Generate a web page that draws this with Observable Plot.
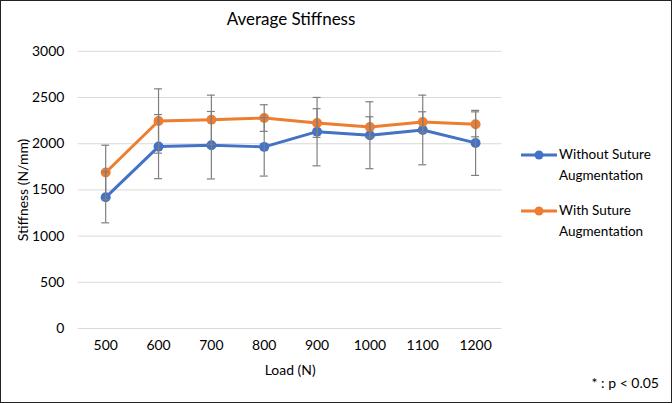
<!DOCTYPE html>
<html>
<head>
<meta charset="utf-8">
<script src="https://cdn.jsdelivr.net/npm/d3@7"></script>
<script src="https://cdn.jsdelivr.net/npm/@observablehq/plot@0.6"></script>
<style>
  html, body { margin: 0; padding: 0; background: #fff; }
  #wrap { position: relative; width: 670px; height: 401px; border: 1px solid #222; font-family: Lato, "Open Sans", sans-serif; color: #000; overflow: hidden; }
  #title { position: absolute; left: 0; width: 580px; top: 7px; text-align: center; font-size: 17px; }
  #legend { position: absolute; left: 519px; top: 143px; font-size: 13.5px; line-height: 21px; }
  .item { display: flex; align-items: flex-start; margin-bottom: 14px; }
  .item svg { flex: none; margin-top: 4px; margin-right: 1px; }
  #note { position: absolute; right: 12px; top: 373px; font-size: 14px; }
  #chart { position: absolute; left: 0; top: 0; }
</style>
</head>
<body>
<div id="wrap">
  <div id="chart"></div>
  <div id="title">Average Stiffness</div>
  <div id="legend"></div>
  <div id="note">* : p &lt; 0.05</div>
</div>
<script>
const loads = ["500", "600", "700", "800", "900", "1000", "1100", "1200"];
const withoutValues = [1420, 1969, 1984, 1966, 2131, 2092, 2149, 2009];
const withoutErr = [276, 347, 365, 316, 370, 362, 377, 352];
const withValues = [1689, 2246, 2260, 2278, 2224, 2181, 2235, 2210];
const withErr = [295, 348, 266, 144, 155, 111, 111, 135];
const seriesNames = ["Without Suture Augmentation", "With Suture Augmentation"];
const legendLines = [["Without Suture", "Augmentation"], ["With Suture", "Augmentation"]];
const seriesColors = ["#4472C4", "#ED7D31"];
const yTicks = [0, 500, 1000, 1500, 2000, 2500, 3000];

const data = [];
loads.forEach((l, i) => {
  data.push({load: l, value: withoutValues[i], err: withoutErr[i], series: seriesNames[0]});
});
loads.forEach((l, i) => {
  data.push({load: l, value: withValues[i], err: withErr[i], series: seriesNames[1]});
});

const errStroke = "#7f7f7f";
const capInset = 22.5;

const chart = Plot.plot({
  width: 672,
  height: 403,
  marginLeft: 77,
  marginRight: 170,
  marginTop: 50,
  marginBottom: 75,
  style: {fontFamily: "Lato, 'Open Sans', sans-serif", fontSize: "14px", color: "#000", background: "transparent"},
  x: {type: "band", domain: loads, padding: 0},
  y: {domain: [0, 3000]},
  color: {domain: seriesNames, range: seriesColors},
  marks: [
    Plot.gridY(yTicks, {stroke: "#d9d9d9", strokeOpacity: 1, strokeWidth: 1}),
    Plot.axisY({ticks: yTicks, tickFormat: d3.format("d"), tickSize: 0, tickPadding: 14, label: "Stiffness (N/mm)", labelAnchor: "center", labelArrow: "none", labelOffset: 60, fontSize: 14}),
    Plot.axisX({tickSize: 0, tickPadding: 12, label: "Load (N)", labelAnchor: "center", labelArrow: "none", labelOffset: 47, fontSize: 14}),
    Plot.line(data, {x: "load", y: "value", z: "series", stroke: "series", strokeWidth: 3}),
    Plot.dot(data, {x: "load", y: "value", fill: "series", r: 5}),
    Plot.ruleX(data, {x: "load", y1: d => d.value - d.err, y2: d => d.value + d.err, stroke: errStroke, strokeWidth: 1.2}),
    Plot.tickY(data, {x: "load", y: d => d.value + d.err, stroke: errStroke, strokeWidth: 1.2, insetLeft: capInset, insetRight: capInset}),
    Plot.tickY(data, {x: "load", y: d => d.value - d.err, stroke: errStroke, strokeWidth: 1.2, insetLeft: capInset, insetRight: capInset})
  ]
});
document.getElementById("chart").appendChild(chart);

const legend = document.getElementById("legend");
seriesNames.forEach((name, i) => {
  const item = document.createElement("div");
  item.className = "item";
  item.innerHTML = `<svg width="38" height="14"><line x1="1" y1="7" x2="37" y2="7" stroke="${seriesColors[i]}" stroke-width="3"/><circle cx="19" cy="7" r="4.5" fill="${seriesColors[i]}"/></svg><div>${legendLines[i].join("<br>")}</div>`;
  legend.appendChild(item);
});
</script>
</body>
</html>
